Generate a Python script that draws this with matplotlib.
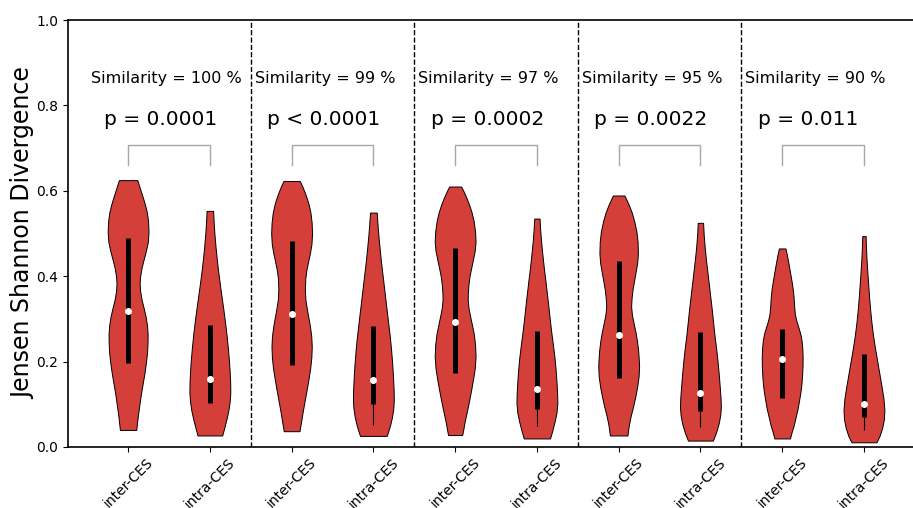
import numpy as np
import matplotlib
matplotlib.use('Agg')
import matplotlib.pyplot as plt

categories = ['inter-CES', 'intra-CES'] * 5
similarity = [100, 99, 97, 95, 90]
p_labels = ['p = 0.0001', 'p < 0.0001', 'p = 0.0002', 'p = 0.0022', 'p = 0.011']

# violin outlines: (JSD level, relative half-width), top to bottom
profile_1 = [(0.625, 9), (0.610, 11), (0.595, 13), (0.580, 15), (0.565, 16.8), (0.550, 18.3),
             (0.530, 19.5), (0.504, 20), (0.480, 19.3), (0.460, 17.5), (0.440, 15.3), (0.420, 13.2),
             (0.400, 11.8), (0.383, 11.3), (0.365, 11.8), (0.345, 13.2), (0.325, 15.3), (0.305, 17.2),
             (0.285, 18.5), (0.265, 19.1), (0.243, 19), (0.220, 18.5), (0.195, 17.3), (0.170, 15.8),
             (0.145, 14), (0.120, 12.3), (0.095, 10.8), (0.070, 9.4), (0.040, 8)]
profile_2 = [(0.553, 3.3), (0.530, 3.8), (0.500, 4.6), (0.470, 5.7), (0.440, 7), (0.410, 8.5),
             (0.380, 10.2), (0.350, 12), (0.320, 13.8), (0.290, 15.5), (0.260, 17), (0.230, 18.3),
             (0.200, 19.4), (0.175, 20.1), (0.150, 20.6), (0.126, 20.7), (0.105, 20), (0.085, 18.7),
             (0.065, 16.8), (0.045, 14.6), (0.027, 12.5)]
profile_3 = [(0.623, 8), (0.610, 10.5), (0.595, 13), (0.580, 15.2), (0.565, 17), (0.548, 18.5),
             (0.525, 19.6), (0.500, 20), (0.475, 19.4), (0.455, 18), (0.435, 16.2), (0.415, 14.5),
             (0.395, 13.4), (0.368, 13), (0.345, 13.5), (0.325, 14.8), (0.305, 16.3), (0.285, 17.8),
             (0.260, 19.2), (0.235, 19.7), (0.210, 19.3), (0.185, 18.2), (0.160, 16.6), (0.135, 14.8),
             (0.110, 12.9), (0.085, 11), (0.060, 9.3), (0.037, 7.7)]
profile_4 = [(0.549, 3.3), (0.525, 4), (0.495, 5), (0.465, 6.2), (0.435, 7.5), (0.405, 9),
             (0.375, 10.5), (0.345, 12), (0.315, 13.5), (0.285, 15), (0.255, 16.5), (0.225, 17.7),
             (0.195, 18.7), (0.165, 19.5), (0.135, 20.1), (0.110, 20.3), (0.090, 19.8), (0.070, 18.5),
             (0.050, 16.5), (0.026, 13.3)]
profile_5 = [(0.610, 6), (0.598, 8.5), (0.583, 11.3), (0.568, 13.8), (0.550, 16.3), (0.530, 18.3),
             (0.505, 19.8), (0.481, 20.3), (0.460, 19.5), (0.440, 17.8), (0.420, 16), (0.400, 14.3),
             (0.380, 13.2), (0.360, 12.6), (0.344, 12.5), (0.325, 13.3), (0.305, 15), (0.285, 16.8),
             (0.265, 18.5), (0.240, 19.8), (0.211, 20.3), (0.185, 19.5), (0.160, 17.9), (0.135, 16),
             (0.110, 14), (0.085, 11.8), (0.060, 9.5), (0.040, 8), (0.028, 7)]
profile_6 = [(0.535, 2.7), (0.510, 3.3), (0.480, 4.3), (0.450, 5.6), (0.420, 7), (0.390, 8.6),
             (0.360, 10.1), (0.330, 11.6), (0.300, 13), (0.270, 14.5), (0.240, 16.2), (0.210, 17.8),
             (0.180, 19), (0.150, 19.9), (0.125, 20.5), (0.102, 20.7), (0.080, 19.8), (0.060, 18),
             (0.040, 15.8), (0.020, 13.3)]
profile_7 = [(0.589, 5.8), (0.578, 8), (0.565, 10.5), (0.550, 13), (0.530, 15.5), (0.505, 17.8),
             (0.480, 19), (0.453, 19.3), (0.430, 18.5), (0.410, 17), (0.390, 15.5), (0.370, 14),
             (0.350, 13), (0.329, 12.5), (0.310, 13.3), (0.290, 15), (0.270, 16.8), (0.250, 18.3),
             (0.225, 19.6), (0.200, 20.3), (0.188, 20.5), (0.165, 20), (0.140, 18.5), (0.118, 16.7),
             (0.095, 14.5), (0.075, 12.3), (0.055, 10.5), (0.040, 9.5), (0.027, 8.8)]
profile_8 = [(0.525, 2.7), (0.500, 3.2), (0.470, 4.2), (0.440, 5.5), (0.410, 7), (0.380, 8.5),
             (0.350, 10), (0.320, 11.5), (0.290, 12.8), (0.260, 14.2), (0.230, 15.8), (0.200, 17.2),
             (0.170, 18.4), (0.140, 19.4), (0.115, 20.2), (0.094, 20.5), (0.075, 19.9), (0.055, 18.3),
             (0.035, 15.8), (0.015, 12.5)]
profile_9 = [(0.465, 3.3), (0.450, 4.7), (0.430, 6.3), (0.410, 7.8), (0.390, 9.3), (0.370, 10.6),
             (0.350, 11.5), (0.330, 12), (0.310, 12.8), (0.295, 14.3), (0.280, 16.3), (0.265, 18.2),
             (0.250, 19.4), (0.230, 20.2), (0.211, 20.5), (0.190, 20.4), (0.170, 20), (0.150, 19.4),
             (0.130, 18.4), (0.110, 17), (0.090, 15.5), (0.070, 13.5), (0.050, 11.5), (0.035, 9.5),
             (0.020, 7.8)]
profile_10 = [(0.494, 1.7), (0.470, 2), (0.440, 2.6), (0.410, 3.4), (0.380, 4.3), (0.350, 5.2),
              (0.320, 6.3), (0.290, 7.6), (0.260, 9.2), (0.230, 11.2), (0.200, 13.4), (0.170, 15.6),
              (0.140, 17.8), (0.115, 19.5), (0.087, 20.5), (0.065, 20), (0.045, 18.3), (0.025, 15.5),
              (0.011, 12.5)]
profiles = [profile_1, profile_2, profile_3, profile_4, profile_5,
            profile_6, profile_7, profile_8, profile_9, profile_10]

quartile1 = [0.197, 0.104, 0.193, 0.101, 0.174, 0.090, 0.162, 0.085, 0.114, 0.071]
medians = [0.318, 0.159, 0.311, 0.157, 0.293, 0.137, 0.263, 0.126, 0.205, 0.101]
quartile3 = [0.489, 0.286, 0.483, 0.283, 0.467, 0.272, 0.436, 0.269, 0.276, 0.218]
whisker_low = [0.197, 0.104, 0.193, 0.052, 0.174, 0.049, 0.162, 0.046, 0.114, 0.040]

vpstats = []
for prof, med in zip(profiles, medians):
    coords = np.array([c for c, _ in prof])[::-1]
    vals = np.array([v for _, v in prof])[::-1]
    vpstats.append(dict(coords=coords, vals=vals, mean=med, median=med,
                        min=coords[0], max=coords[-1]))

positions = np.arange(1, len(profiles) + 1)

fig = plt.figure(figsize=(9.13, 5.08), dpi=100)
ax = fig.add_axes([68 / 913, 1 - 447 / 508, 845 / 913, 427 / 508])

parts = ax.violin(vpstats, positions=positions, widths=0.5, showextrema=False)
for body in parts['bodies']:
    body.set_facecolor('#D43F3A')
    body.set_edgecolor('black')
    body.set_linewidth(0.7)
    body.set_alpha(1)

ax.vlines(positions, quartile1, quartile3, color='k', linestyle='-', lw=3.6)
ax.vlines(positions, whisker_low, quartile1, color='k', linestyle='-', lw=0.8)
ax.scatter(positions, medians, marker='o', color='white', s=16, zorder=3)

# group separators and per-group annotations
for i, (sim, p) in enumerate(zip(similarity, p_labels)):
    left = positions[2 * i]
    right = positions[2 * i + 1]
    if i > 0:
        ax.axvline(left - 0.5, color='k', linestyle='--', lw=1)
    ax.text(left - 0.45, 0.864, f'Similarity = {sim} %', fontsize=11.5, ha='left', va='center')
    ax.text(left - 0.30, 0.766, p, fontsize=14.5, ha='left', va='center')
    ax.plot([left, left, right, right], [0.660, 0.707, 0.707, 0.660], color='#a8a8a8', lw=1)

ax.set_xlim(0.265, 10.6)
ax.set_ylim(0, 1.0)
ax.set_xticks(positions)
ax.set_xticklabels(categories, rotation=45, fontsize=10)
ax.tick_params(axis='x', pad=2.5)
ax.set_yticks([0.0, 0.2, 0.4, 0.6, 0.8, 1.0])
ax.tick_params(axis='y', labelsize=10)
ax.set_ylabel('Jensen Shannon Divergence', fontsize=17)
ax.yaxis.set_label_coords(-0.039, 0.5)
ax.spines['right'].set_visible(False)
for side in ['left', 'bottom', 'top']:
    ax.spines[side].set_linewidth(1.2)

fig.savefig('out.png', dpi=100)
